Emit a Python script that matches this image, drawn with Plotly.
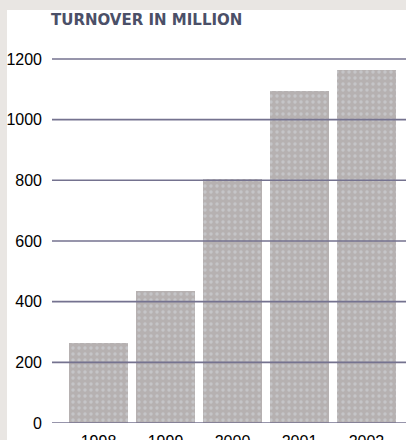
import plotly.graph_objects as go

years = ["1998", "1999", "2000", "2001", "2002"]
turnover = [265, 435, 805, 1095, 1165]
y_ticks = [0, 200, 400, 600, 800, 1000, 1200]
title_text = "TURNOVER IN MILLION"

W, H = 406, 440
L, R, T, B = 52, 0, 45, 17
pw, ph = W - L - R, H - T - B

fig = go.Figure()
fig.add_trace(go.Bar(
    x=list(range(len(years))), y=turnover, width=0.87,
    marker=dict(color="#b6b1b1", line=dict(width=0),
                pattern=dict(shape=".", fgcolor="#d3dae0", bgcolor="#b6b1b1",
                             size=6, solidity=0.25)),
    hoverinfo="skip", showlegend=False,
))

shapes = []
for v in y_ticks:
    shapes.append(dict(type="line", xref="paper", yref="y", x0=0, x1=1, y0=v, y1=v,
                       line=dict(color="#74728f", width=1.6), layer="above"))
# outer light frame strips
shapes.append(dict(type="rect", xref="paper", yref="paper",
                   x0=(0 - L) / pw, x1=(7 - L) / pw, y0=-0.2, y1=1.3,
                   fillcolor="#e9e6e3", line=dict(width=0), layer="below"))
shapes.append(dict(type="rect", xref="paper", yref="paper",
                   x0=(0 - L) / pw, x1=1.05, y0=(H - B - 10) / ph, y1=(H - B) / ph + 0.05,
                   fillcolor="#e9e6e3", line=dict(width=0), layer="below"))

fig.update_layout(
    width=W, height=H,
    margin=dict(l=L, r=R, t=T, b=B, pad=0, autoexpand=False),
    paper_bgcolor="white", plot_bgcolor="white",
    font=dict(family="Liberation Sans, Arial, sans-serif", color="#000000", size=16),
    xaxis=dict(tickmode="array", tickvals=list(range(len(years))), ticktext=years,
               range=[-0.694, 4.59], showgrid=False, zeroline=False, showline=False,
               ticks="", ticklabelstandoff=7, tickfont=dict(size=16), automargin=False),
    yaxis=dict(tickmode="array", tickvals=y_ticks, ticktext=[str(v) for v in y_ticks],
               range=[0, 1246], showgrid=False, zeroline=False, showline=False,
               ticks="", ticklabelstandoff=9, tickfont=dict(size=16), automargin=False),
    shapes=shapes,
    annotations=[dict(text=title_text, xref="paper", yref="paper",
                      x=(49 - L) / pw, y=(H - B - 20) / ph, xanchor="left", yanchor="middle",
                      showarrow=False,
                      font=dict(family="DejaVu Sans, sans-serif", size=15,
                                color="#4b5068", weight="bold"))],
    bargap=0,
)

fig.write_html("out.html", config={"displayModeBar": False},
               post_script="document.body.style.margin='0';document.body.style.overflow='hidden';")
